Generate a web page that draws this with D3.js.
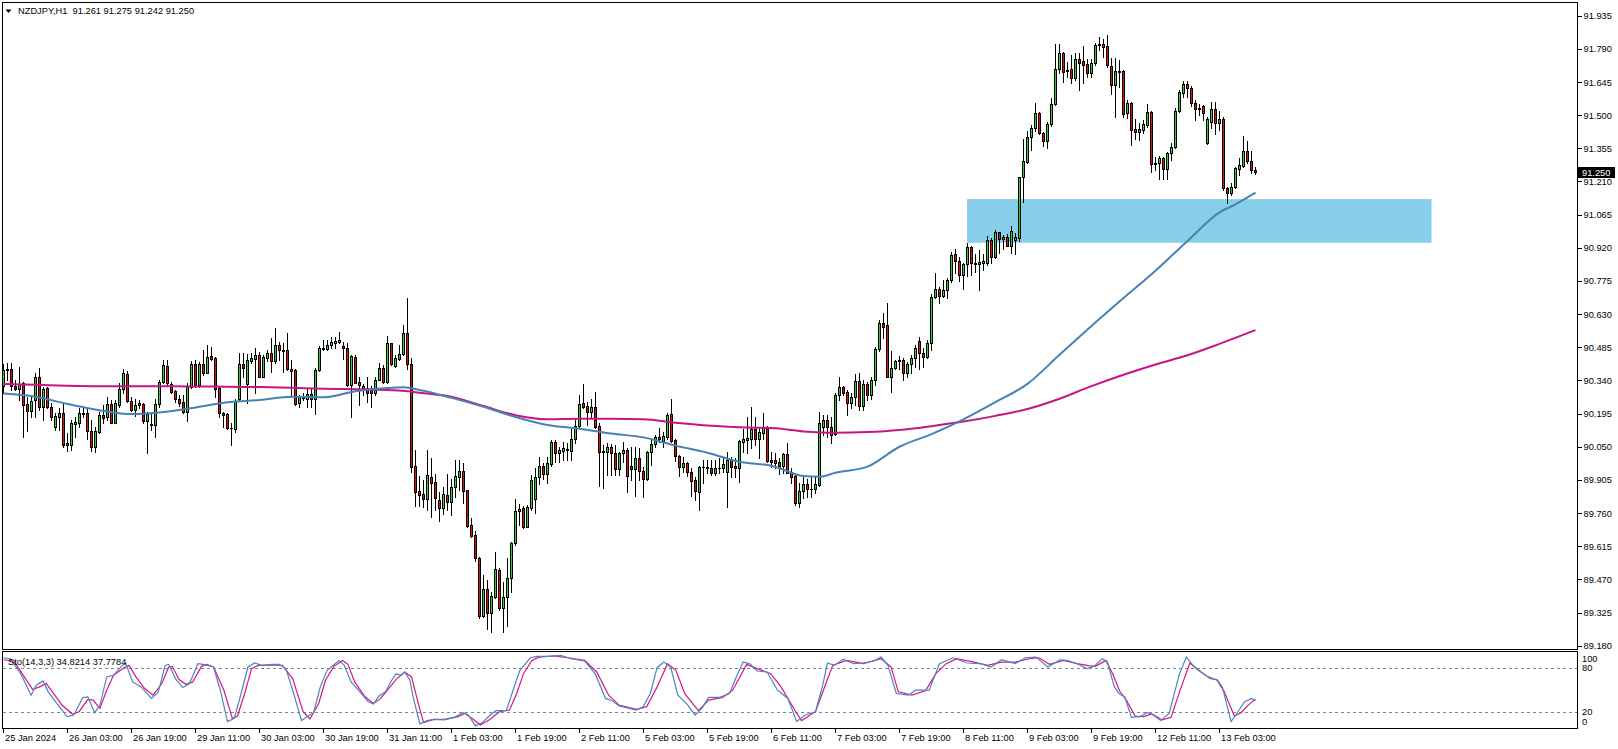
<!DOCTYPE html>
<html><head><meta charset="utf-8">
<script src="https://cdn.jsdelivr.net/npm/d3@7"></script>
<style>body{margin:0;background:#fff}svg{display:block}text{font-family:"Liberation Sans",Arial,sans-serif}</style>
</head><body><svg id="c" width="1618" height="749"></svg>
<script>
const titleText = "NZDJPY,H1  91.261 91.275 91.242 91.250";
const stochTitle = "Sto(14,3,3) 34.8214 37.7784";
const lastPrice = 91.250;

const opens = [90.315,90.385,90.388,90.315,90.304,90.327,90.237,90.207,90.254,90.356,90.225,90.305,90.222,90.137,90.178,90.196,90.059,90.059,90.149,90.152,
90.199,90.199,90.120,90.050,90.116,90.188,90.178,90.237,90.155,90.234,90.301,90.366,90.248,90.210,90.240,90.237,90.164,90.143,90.143,90.237,
90.333,90.403,90.324,90.292,90.258,90.245,90.202,90.312,90.412,90.320,90.412,90.374,90.447,90.436,90.305,90.196,90.193,90.132,90.129,90.257,
90.410,90.323,90.425,90.435,90.451,90.356,90.439,90.461,90.423,90.495,90.473,90.473,90.388,90.385,90.242,90.263,90.258,90.279,90.257,90.385,
90.484,90.476,90.493,90.505,90.509,90.490,90.484,90.321,90.444,90.333,90.315,90.308,90.301,90.283,90.344,90.394,90.334,90.502,90.403,90.435,
90.454,90.546,90.410,89.968,89.856,89.843,89.820,89.919,89.898,89.817,89.783,89.841,89.809,89.872,89.919,89.942,89.860,89.706,89.662,89.564,
89.311,89.430,89.324,89.394,89.510,89.343,89.391,89.474,89.627,89.769,89.780,89.700,89.780,89.820,89.916,89.965,89.929,89.973,90.069,90.024,
90.033,90.037,90.033,90.086,90.142,90.240,90.228,90.203,90.223,90.140,90.031,90.028,90.050,90.024,89.954,90.024,90.034,89.968,89.954,90.003,
89.945,89.910,90.025,90.060,90.086,90.075,90.091,90.193,90.079,90.011,89.963,89.980,89.939,89.904,89.853,89.961,89.959,89.955,89.936,89.956,
89.955,89.941,89.992,89.965,89.958,90.072,90.079,90.084,90.127,90.085,90.111,90.133,89.994,89.990,89.983,89.965,90.018,89.939,89.922,89.802,
89.857,89.887,89.866,89.864,89.881,90.137,90.167,90.137,90.105,90.276,90.310,90.288,90.242,90.266,90.339,90.229,90.324,90.276,90.342,90.476,
90.589,90.582,90.356,90.393,90.424,90.429,90.373,90.411,90.440,90.513,90.462,90.442,90.502,90.706,90.738,90.709,90.735,90.779,90.891,90.863,
90.801,90.849,90.922,90.854,90.848,90.852,90.852,90.954,90.881,90.989,90.957,90.967,90.927,90.954,90.961,91.228,91.296,91.406,91.442,91.508,
91.420,91.388,91.460,91.551,91.700,91.770,91.697,91.700,91.661,91.744,91.735,91.723,91.686,91.729,91.805,91.811,91.802,91.715,91.630,91.690,
91.693,91.508,91.554,91.441,91.426,91.435,91.457,91.514,91.290,91.289,91.312,91.263,91.333,91.359,91.519,91.598,91.636,91.619,91.554,91.530,
91.540,91.377,91.471,91.525,91.467,91.483,91.180,91.158,91.184,91.266,91.277,91.343,91.298,91.261];
const highs = [90.412,90.417,90.415,90.342,90.397,90.334,90.269,90.269,90.374,90.394,90.312,90.312,90.240,90.196,90.218,90.240,90.108,90.167,90.181,90.218,
90.218,90.225,90.167,90.137,90.203,90.232,90.269,90.254,90.254,90.327,90.388,90.382,90.266,90.261,90.254,90.240,90.203,90.196,90.261,90.344,
90.429,90.429,90.334,90.298,90.276,90.275,90.327,90.426,90.429,90.422,90.473,90.493,90.487,90.444,90.312,90.203,90.196,90.152,90.257,90.461,
90.458,90.455,90.461,90.480,90.466,90.451,90.473,90.524,90.568,90.509,90.502,90.549,90.429,90.388,90.276,90.286,90.305,90.305,90.393,90.490,
90.519,90.517,90.531,90.531,90.553,90.509,90.502,90.451,90.451,90.353,90.324,90.353,90.315,90.356,90.415,90.407,90.534,90.505,90.451,90.495,
90.582,90.699,90.436,90.035,89.922,89.904,90.035,89.999,89.933,89.852,89.875,89.933,89.907,89.992,89.992,89.977,89.863,89.737,89.683,89.569,
89.489,89.467,89.416,89.591,89.518,89.460,89.562,89.634,89.820,89.799,89.790,89.795,89.926,89.955,90.006,89.977,90.006,90.079,90.079,90.050,
90.072,90.065,90.126,90.167,90.276,90.324,90.247,90.261,90.291,90.152,90.057,90.065,90.062,90.057,90.028,90.072,90.043,90.050,90.047,90.043,
89.963,90.033,90.086,90.101,90.130,90.116,90.196,90.257,90.082,90.014,90.006,89.984,89.955,89.919,89.965,89.992,89.992,89.992,89.992,89.999,
90.006,90.028,90.006,89.999,90.079,90.126,90.178,90.222,90.178,90.137,90.196,90.142,90.028,90.024,89.999,90.024,90.065,89.955,89.926,89.890,
89.919,89.911,89.919,89.919,90.203,90.188,90.188,90.181,90.283,90.353,90.315,90.298,90.283,90.366,90.371,90.342,90.334,90.353,90.487,90.604,
90.633,90.680,90.470,90.429,90.446,90.436,90.422,90.451,90.494,90.531,90.480,90.516,90.720,90.808,90.750,90.779,90.786,90.903,90.913,90.878,
90.855,90.942,90.927,90.892,90.910,90.895,90.971,90.961,90.997,90.990,90.976,90.980,91.015,90.983,91.231,91.395,91.432,91.457,91.552,91.515,
91.428,91.471,91.573,91.811,91.811,91.777,91.734,91.763,91.770,91.770,91.802,91.744,91.744,91.814,91.840,91.831,91.850,91.748,91.748,91.741,
91.697,91.566,91.559,91.482,91.464,91.479,91.549,91.519,91.318,91.321,91.318,91.340,91.379,91.530,91.610,91.651,91.651,91.627,91.566,91.551,
91.544,91.493,91.559,91.559,91.519,91.490,91.187,91.204,91.274,91.311,91.409,91.388,91.344,91.275];
const lows = [90.283,90.342,90.298,90.298,90.254,90.091,90.120,90.178,90.178,90.210,90.167,90.218,90.167,90.123,90.123,90.050,90.032,90.035,90.094,90.137,
90.181,90.086,90.032,90.027,90.108,90.152,90.167,90.152,90.152,90.225,90.283,90.245,90.207,90.184,90.218,90.155,90.021,90.123,90.094,90.225,
90.327,90.315,90.283,90.247,90.228,90.196,90.164,90.305,90.312,90.312,90.363,90.371,90.429,90.269,90.181,90.137,90.129,90.059,90.114,90.251,
90.356,90.242,90.415,90.286,90.356,90.353,90.426,90.378,90.415,90.429,90.378,90.385,90.269,90.234,90.225,90.254,90.225,90.225,90.193,90.382,
90.473,90.473,90.480,90.480,90.502,90.432,90.315,90.181,90.327,90.232,90.276,90.247,90.222,90.276,90.342,90.330,90.330,90.407,90.400,90.429,
90.451,90.391,89.941,89.790,89.790,89.788,89.773,89.741,89.773,89.726,89.758,89.773,89.751,89.831,89.860,89.805,89.700,89.656,89.551,89.303,
89.306,89.255,89.241,89.387,89.336,89.241,89.266,89.416,89.620,89.707,89.693,89.697,89.773,89.761,89.887,89.907,89.890,89.965,89.984,89.984,
89.992,89.992,89.992,90.067,90.137,90.218,90.145,90.174,90.130,89.878,89.868,89.926,89.926,89.926,89.926,89.984,89.852,89.904,89.834,89.904,
89.831,89.904,89.970,90.050,90.072,90.050,90.086,90.072,89.989,89.922,89.941,89.922,89.834,89.817,89.773,89.890,89.934,89.926,89.926,89.934,
89.941,89.788,89.919,89.919,89.897,90.028,90.021,90.043,90.057,90.000,90.082,89.984,89.963,89.955,89.933,89.934,89.934,89.890,89.795,89.785,
89.824,89.831,89.831,89.846,89.878,90.101,90.094,90.065,90.101,90.254,90.276,90.188,90.218,90.232,90.210,90.210,90.254,90.261,90.320,90.470,
90.524,90.353,90.291,90.388,90.392,90.344,90.353,90.373,90.400,90.388,90.397,90.436,90.473,90.699,90.680,90.703,90.699,90.771,90.808,90.776,
90.742,90.796,90.801,90.815,90.735,90.825,90.844,90.854,90.876,90.898,90.913,90.940,90.898,90.895,90.951,91.121,91.289,91.347,91.432,91.417,
91.365,91.355,91.452,91.544,91.683,91.646,91.668,91.642,91.656,91.610,91.642,91.668,91.668,91.719,91.785,91.753,91.712,91.592,91.493,91.624,
91.490,91.486,91.369,91.394,91.391,91.420,91.449,91.253,91.260,91.223,91.223,91.219,91.304,91.355,91.515,91.581,91.581,91.540,91.479,91.500,
91.479,91.374,91.442,91.417,91.435,91.172,91.114,91.151,91.180,91.238,91.274,91.289,91.248,91.242];
const closes = [90.385,90.388,90.315,90.304,90.324,90.231,90.207,90.248,90.356,90.225,90.304,90.222,90.178,90.184,90.196,90.059,90.065,90.155,90.158,90.196,
90.193,90.120,90.050,90.117,90.188,90.177,90.237,90.155,90.240,90.302,90.371,90.248,90.210,90.232,90.231,90.164,90.193,90.149,90.235,90.331,
90.406,90.327,90.289,90.257,90.242,90.202,90.315,90.412,90.318,90.410,90.374,90.441,90.435,90.304,90.196,90.190,90.132,90.130,90.251,90.410,
90.396,90.429,90.439,90.451,90.356,90.441,90.458,90.423,90.495,90.473,90.470,90.388,90.380,90.237,90.266,90.269,90.279,90.257,90.385,90.484,
90.476,90.495,90.508,90.514,90.519,90.480,90.321,90.447,90.330,90.318,90.298,90.283,90.286,90.344,90.394,90.334,90.502,90.412,90.436,90.454,
90.546,90.410,89.963,89.853,89.841,89.823,89.926,89.893,89.824,89.783,89.843,89.809,89.872,89.922,89.944,89.858,89.703,89.661,89.562,89.311,
89.426,89.324,89.397,89.514,89.343,89.391,89.474,89.627,89.769,89.779,89.700,89.785,89.904,89.916,89.965,89.929,89.980,90.069,90.024,90.034,
90.043,90.038,90.086,90.142,90.235,90.225,90.203,90.223,90.137,90.028,90.027,90.050,90.021,89.954,90.024,90.034,89.923,89.954,90.003,89.945,
89.910,90.025,90.060,90.091,90.092,90.097,90.188,90.076,90.011,89.963,89.980,89.938,89.901,89.857,89.960,89.963,89.961,89.936,89.955,89.958,
89.974,89.992,89.960,89.958,90.075,90.082,90.088,90.127,90.082,90.114,90.133,89.987,89.984,89.980,89.963,90.018,89.936,89.919,89.802,89.858,
89.887,89.866,89.864,89.887,90.152,90.167,90.135,90.102,90.276,90.310,90.286,90.242,90.266,90.339,90.229,90.324,90.276,90.342,90.476,90.592,
90.575,90.356,90.393,90.425,90.429,90.373,90.411,90.440,90.484,90.461,90.443,90.502,90.706,90.738,90.709,90.735,90.779,90.888,90.863,90.801,
90.849,90.922,90.852,90.849,90.860,90.863,90.954,90.881,90.990,90.957,90.967,90.927,90.995,90.967,91.228,91.299,91.403,91.442,91.508,91.420,
91.388,91.460,91.551,91.700,91.770,91.690,91.694,91.661,91.744,91.729,91.721,91.686,91.729,91.807,91.811,91.799,91.719,91.630,91.693,91.694,
91.505,91.554,91.435,91.428,91.441,91.461,91.514,91.286,91.288,91.312,91.263,91.333,91.359,91.519,91.603,91.635,91.617,91.554,91.528,91.525,
91.508,91.483,91.525,91.467,91.483,91.180,91.158,91.184,91.267,91.280,91.343,91.301,91.260,91.250];

// moving averages (bar index, price)
const maFastIdx = [0,8,16,24,32,40,48,56,64,72,80,88,96,100,104,112,120,128,136,144,152,160,168,176,184,192,200,204,208,216,224,232,240,248,256,264,272,280,288,296,304,308,313];
const maFast = [90.283,90.269,90.237,90.210,90.193,90.202,90.222,90.245,90.254,90.269,90.266,90.293,90.307,90.310,90.298,90.264,90.225,90.180,90.145,90.129,90.108,90.091,90.055,90.024,89.984,89.967,89.922,89.919,89.936,89.963,90.050,90.105,90.170,90.245,90.325,90.452,90.578,90.700,90.820,90.950,91.075,91.110,91.161];
const maSlowIdx = [0,8,16,24,32,40,48,56,64,72,80,88,96,100,104,112,120,128,136,144,152,160,168,176,184,192,200,208,216,224,232,240,248,256,264,272,280,288,296,304,313];
const maSlow = [90.324,90.321,90.317,90.315,90.315,90.315,90.314,90.312,90.311,90.308,90.304,90.302,90.298,90.295,90.286,90.269,90.228,90.188,90.170,90.172,90.172,90.170,90.155,90.143,90.135,90.132,90.117,90.111,90.114,90.123,90.140,90.160,90.185,90.215,90.260,90.315,90.365,90.410,90.450,90.500,90.560];

// stochastic main (%K) and signal (%D), (bar index, value)
const stoKIdx = [0,1.7,4.3,6.9,8.2,9.9,11.2,13.3,15.9,17.6,19.8,21.1,22.8,24.1,25.8,27.5,29.7,30.5,32.3,34.4,37,38.7,40.4,41.3,43,44.8,46.5,48.6,49.9,52.5,54.2,56,57.7,59.4,61.1,62.8,64.5,67.1,68.9,70.6,72.3,74.5,75.7,77.5,79.2,80.9,83.9,85.2,86.9,89.1,91.2,92.5,93.8,95.5,96.8,98.1,99.4,100.3,101.6,102.4,104.1,105.9,107.6,110.2,112.8,114.9,116.2,118,119.7,121.4,123.1,125.7,127.4,129.1,131.7,133.4,
136.7,139.3,141.9,145.3,147.9,150.5,152.2,153.9,158.2,159.9,161.7,163.4,165.1,166.8,168.6,171.1,172.9,174.6,176.3,178.9,181.5,183.2,184.9,186.6,188.4,190.9,193.5,196.1,198.3,200.4,203,204.7,206,207.7,209.9,212.5,215,217.6,219.4,221.1,223.2,226.2,228,231.4,234,237.4,240.9,244.3,246.9,249.5,252.9,255.5,258.1,261.1,264.1,265.8,268.4,
270.8,272.6,274.7,276,277.7,279,280.3,282,284.1,285.9,287.1,289.3,291.4,294,295.7,297.4,300,301.7,303.4,304.7,306.9,308.6,310.3,312,313];
const stoK = [93.4,92.1,71.9,42.8,56.3,62.1,47.3,31.6,13.7,16,39.7,40.6,19.1,29.4,67.5,69.7,83.1,86.3,60.7,54,38.4,47.3,83.1,84.5,65.2,53.1,58.5,85.4,84.5,80.9,49.5,7,11.5,45.1,80.9,86.3,83.1,84.5,84.5,78.7,49.5,8.4,12.8,19.1,54,76.4,89.8,83.1,60.7,47.3,33.9,30.7,41.5,47.3,60.7,71.9,69.7,74.2,63,40.6,3.9,8.4,10.1,9.3,12.8,19.1,16,1.2,5.7,14.6,21.8,21.8,49.5,76.4,93.4,95.2,
95.2,96.6,92.1,89,71.9,38.4,35.2,28.1,22.7,27.2,45.1,80,87.6,80.9,42.8,29.4,16,24.9,39.7,39.7,45.1,67.5,87.6,85.4,75.5,74.2,49.5,38.4,7,16,20.4,54,86.3,83.1,91.6,85.4,86.3,89,94.3,83.1,45.1,42.8,49.5,49.5,85.4,93.4,86.3,85.4,80.9,90.7,85.4,93.4,94.3,80.9,90.7,89.8,85.4,
78.7,81.8,92.1,87.6,54,44.2,40.6,12.8,13.7,19.1,17.3,8.4,18.2,71.9,94.3,83.1,71.9,65.2,63.9,54,7,20.4,33.9,38.4,34.8];
const stoDIdx = [0,2.6,5.2,7.3,9,10.7,12.5,14.6,17.2,18.9,21.1,22.4,24.1,25.8,27.5,30.1,31.4,33.1,35.3,37.4,39.6,41.3,42.2,43.9,45.6,47.3,49.5,50.8,52.5,55.1,57.2,58.5,60.3,62,63.7,67.1,69.7,72.3,74.9,76.6,78.8,80.5,82.6,84.8,86.1,87.8,90.4,92.5,94.3,96,98.1,100.3,102,103.7,105,107.6,110.2,113.6,115.3,117.1,119.2,121.4,124,126.5,128.3,130,132.1,133.9,
137.6,141,145.3,148.3,151.3,153.9,158.2,160.8,163.4,166,168.1,170.3,173.7,176.3,179.8,182.3,185.8,188.4,191.8,194.4,197.8,199.5,203,205.6,207.3,210.7,215,219.4,221.9,223.7,227.1,230.5,233.1,235.7,238.3,242.6,246,249.5,252.9,256.4,258.9,261.5,265,268.4,
271.3,273,275.6,277.3,279,280.7,282.9,285,287.1,289.7,291.9,294,296.6,298.7,300.9,303.4,305.2,307.7,309.4,311.2,313];
const stoD = [90.7,89,67.5,50.4,54,58.5,45.1,29.4,17.3,20.4,37,36.1,24.9,49.5,69.7,80,83.1,67.5,51.8,42.8,58.5,80.9,81.8,63.9,57.6,60.7,81.8,84.5,80.9,49.5,11.5,14.6,45.1,78.7,83.1,83.6,83.1,65.2,20.4,10.6,31.6,63,81.8,89.8,84.5,60.7,40.6,31.6,38.4,49.5,63.9,74.2,67.5,31.6,5.7,10.1,10.1,13.7,18.2,11.5,2.5,9.3,20.4,22.7,45.1,71.9,89.8,94.3,
96.1,93.4,89.8,74.2,42.8,29.4,23.6,27.2,54,85.4,76.4,45.1,21.8,36.1,39.7,49.5,84.5,78.7,71.9,54,22.7,8.4,20.4,58.5,83.1,89.8,85.4,92.1,80.9,47.3,42.8,48.7,71.9,85.4,92.1,87.6,83.1,87.6,87.6,92.1,93.4,84.5,89.8,85.4,
82.7,81.8,89.8,71.9,48.7,36.1,14.6,13.7,17.3,9.3,12.8,47.3,86.3,76.4,68.4,63,47.3,14.6,19.1,29.4,37.8];

// highlighted zone (bar index range, price range)
const zoneBars = [240.9, 357];
const zonePrices = [91.133, 90.942];

const priceTicks = [89.180,89.325,89.470,89.615,89.760,89.905,90.050,90.195,90.340,90.485,90.630,90.775,90.920,91.065,91.210,91.355,91.500,91.645,91.790,91.935];
const stochLevels = [20, 80];
const stochLabels = [{t:"100",v:100},{t:"80",v:80},{t:"20",v:20},{t:"0",v:0}];
const timeTickIdx = [0,16,32,48,64,80,96,112,128,144,160,176,192,208,224,240,256,272,288,304];
const timeLabels = ["25 Jan 2024","26 Jan 03:00","26 Jan 19:00","29 Jan 11:00","30 Jan 03:00","30 Jan 19:00","31 Jan 11:00","1 Feb 03:00","1 Feb 19:00","2 Feb 11:00","5 Feb 03:00","5 Feb 19:00","6 Feb 11:00","7 Feb 03:00","7 Feb 19:00","8 Feb 11:00","9 Feb 03:00","9 Feb 19:00","12 Feb 11:00","13 Feb 03:00"];

const svg = d3.select("#c");
const L = 2.5, R = 1577.5, mainTop = 2.5, mainBot = 649.5, stTop = 651.5, stBot = 728.5;
const x = d3.scaleLinear().domain([0, 1]).range([3.5, 7.5]);
const y = d3.scaleLinear().domain([89.180, 91.935]).range([645.7, 15.7]);
const ys = d3.scaleLinear().domain([0, 100]).range([726.8, 652.9]);

svg.append("rect").attr("width",1618).attr("height",749).attr("fill","#fff");

// clip for main
svg.append("clipPath").attr("id","mclip").append("rect").attr("x",L).attr("y",mainTop).attr("width",R-L).attr("height",mainBot-mainTop);
svg.append("clipPath").attr("id","sclip").append("rect").attr("x",L).attr("y",stTop).attr("width",R-L).attr("height",stBot-stTop);

const main = svg.append("g").attr("clip-path","url(#mclip)");
main.append("rect")
  .attr("x", x(zoneBars[0])).attr("y", y(zonePrices[0]))
  .attr("width", x(zoneBars[1]) - x(zoneBars[0])).attr("height", y(zonePrices[1]) - y(zonePrices[0]))
  .attr("fill", "#87CEEB");

const bars = opens.map((o,i)=>({i, o, h:highs[i], l:lows[i], c:closes[i]}));
const cg = main.append("g").attr("shape-rendering","crispEdges");
cg.selectAll("line.w").data(bars).join("line").attr("class","w")
  .attr("x1", d=>x(d.i)).attr("x2", d=>x(d.i))
  .attr("y1", d=>Math.round(y(d.h))).attr("y2", d=>Math.round(y(d.l))+1)
  .attr("stroke","#000").attr("stroke-width",1);
cg.selectAll("rect.b").data(bars).join("rect").attr("class","b")
  .attr("x", d=>x(d.i)-1)
  .attr("y", d=>Math.round(y(Math.max(d.o,d.c)))+0.5)
  .attr("width", 2)
  .attr("height", d=>Math.max(0, Math.round(y(Math.min(d.o,d.c))) - Math.round(y(Math.max(d.o,d.c)))))
  .attr("fill", d=> d.c >= d.o ? "#32CD32" : "#E01010")
  .attr("stroke","#000").attr("stroke-width",1);
cg.selectAll("line.dj").data(bars.filter(d=>Math.round(y(d.o))===Math.round(y(d.c)))).join("line").attr("class","dj")
  .attr("x1", d=>x(d.i)-1.5).attr("x2", d=>x(d.i)+1.5)
  .attr("y1", d=>Math.round(y(d.c))+0.5).attr("y2", d=>Math.round(y(d.c))+0.5)
  .attr("stroke","#000");

const lineMain = d3.line().x(d=>x(d[0])).y(d=>y(d[1])).curve(d3.curveMonotoneX);
main.append("path").datum(maSlowIdx.map((k,i)=>[k, maSlow[i]]))
  .attr("d", lineMain).attr("fill","none").attr("stroke","#C71585").attr("stroke-width",2);
main.append("path").datum(maFastIdx.map((k,i)=>[k, maFast[i]]))
  .attr("d", lineMain).attr("fill","none").attr("stroke","#4682B4").attr("stroke-width",2);

// stochastic
const sg = svg.append("g").attr("clip-path","url(#sclip)");
sg.selectAll("line.lv").data(stochLevels).join("line")
  .attr("x1", L).attr("x2", R).attr("y1", d=>Math.round(ys(d))+0.5).attr("y2", d=>Math.round(ys(d))+0.5)
  .attr("stroke","#778899").attr("stroke-dasharray","3,3").attr("shape-rendering","crispEdges");
const lineSt = d3.line().x(d=>x(d[0])).y(d=>ys(d[1]));
sg.append("path").datum(stoDIdx.map((k,i)=>[k, stoD[i]]))
  .attr("d", lineSt).attr("fill","none").attr("stroke","#DC1480").attr("stroke-width",1.2);
sg.append("path").datum(stoKIdx.map((k,i)=>[k, stoK[i]]))
  .attr("d", lineSt).attr("fill","none").attr("stroke","#4A86C0").attr("stroke-width",1.2);

// frames
const fr = svg.append("g").attr("fill","none").attr("stroke","#000").attr("shape-rendering","crispEdges");
fr.append("rect").attr("x",L).attr("y",mainTop).attr("width",R-L).attr("height",mainBot-mainTop);
fr.append("rect").attr("x",L).attr("y",stTop).attr("width",R-L).attr("height",stBot-stTop);

// price axis
const pa = svg.append("g").attr("transform", `translate(${R},0)`)
  .call(d3.axisRight(y).tickValues(priceTicks).tickFormat(d3.format(".3f")).tickSize(4).tickPadding(2));
pa.select(".domain").remove();
pa.selectAll("line").attr("stroke","#000").attr("shape-rendering","crispEdges");
pa.selectAll("text").attr("font-size","9.3px").attr("fill","#000").attr("font-family","Liberation Sans, Arial, sans-serif");

// stochastic level labels
svg.selectAll("text.sl").data(stochLabels).join("text").attr("class","sl")
  .attr("x", 1582).attr("y", d=> d.v===100 ? 661.8 : d.v===0 ? 724.5 : ys(d.v)+3.3)
  .attr("font-size","9.3px").attr("fill","#000").text(d=>d.t);

// last price tag
const lp = y(lastPrice);
svg.append("rect").attr("x",1578).attr("y",Math.round(lp)-5).attr("width",37).attr("height",11).attr("fill","#000");
svg.append("text").attr("x",1582).attr("y",Math.round(lp)+3.8).attr("font-size","9.3px").attr("fill","#fff").text(d3.format(".3f")(lastPrice));

// time axis
const ta = svg.append("g").attr("transform", `translate(0,${stBot})`)
  .call(d3.axisBottom(x).tickValues(timeTickIdx).tickFormat((d,i)=>timeLabels[i]).tickSize(4));
ta.select(".domain").remove();
ta.selectAll(".tick").attr("transform", d=>`translate(${x(d)-0.5},0)`);
ta.selectAll("line").attr("stroke","#000").attr("shape-rendering","crispEdges");
ta.selectAll("text").attr("text-anchor","start").attr("x",2).attr("y",6).attr("dy","0.71em")
  .attr("font-size","9.3px").attr("fill","#000").attr("font-family","Liberation Sans, Arial, sans-serif");

// titles
svg.append("path").attr("d","M5.5,9.5 L11.5,9.5 L8.5,13 Z").attr("fill","#000");
svg.append("text").attr("x",18).attr("y",14).attr("font-size","9.3px").attr("fill","#000").attr("xml:space","preserve").style("white-space","pre").text(titleText);
svg.append("text").attr("x",8).attr("y",664.5).attr("font-size","9.3px").attr("fill","#000").style("white-space","pre").text(stochTitle);
</script></body></html>
